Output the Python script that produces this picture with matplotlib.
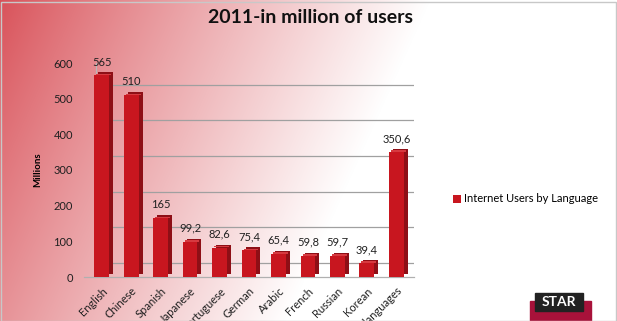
import numpy as np
import matplotlib
matplotlib.use("Agg")
import matplotlib.pyplot as plt
import matplotlib.transforms as mtransforms
from matplotlib.patches import Rectangle

# ─────────────────────────────────────────
# DATA
# ─────────────────────────────────────────
languages = ["English", "Chinese", "Spanish", "Japanese", "Portuguese", "German",
             "Arabic", "French", "Russian", "Korean", "Other languages"]
users = [565, 510, 165, 99.2, 82.6, 75.4, 65.4, 59.8, 59.7, 39.4, 350.6]
value_labels = ["565", "510", "165", "99,2", "82,6", "75,4", "65,4", "59,8",
                "59,7", "39,4", "350,6"]
y_ticks = [0, 100, 200, 300, 400, 500, 600]

TITLE = "2011-in million of users"
SERIES = "Internet Users by Language"

plt.rcParams['font.family'] = ['Lato', 'DejaVu Sans']

W, H = 617, 321
fig = plt.figure(figsize=(W / 100, H / 100), dpi=100)

# ─────────────────────────────────────────
# background gradient (red -> white, diagonal)
# ─────────────────────────────────────────
bg = fig.add_axes([0, 0, 1, 1], zorder=0)
xx, yy = np.meshgrid(np.arange(W), np.arange(H))
t = np.clip((xx + 0.45 * yy) / 430.0, 0, 1) ** 0.9
red = np.array([0.85, 0.32, 0.35])
white = np.array([1.0, 1.0, 1.0])
img = red[None, None, :] * (1 - t[..., None]) + white[None, None, :] * t[..., None]
bg.imshow(img, extent=[0, W, H, 0], aspect="auto")
bg.set_xlim(0, W)
bg.set_ylim(H, 0)
bg.axis("off")

# ─────────────────────────────────────────
# main chart
# ─────────────────────────────────────────
ax = fig.add_axes([84 / W, 44 / H, 330 / W, 214 / H], zorder=2)
ax.patch.set_alpha(0)
x = np.arange(len(languages))

# back wall gridlines, shifted for a 3D look
back = ax.transData + mtransforms.ScaledTranslation(12 / 100, 14 / 100, fig.dpi_scale_trans)
for v in y_ticks:
    ax.plot([-0.6, 10.6], [v, v], color="#a0a0a0", lw=0.9, transform=back, zorder=1)
ax.plot([-0.6, -0.6], [0, 600], color="#b8b8b8", lw=0.8, transform=back, zorder=1)
for v in y_ticks:
    ax.plot([-0.6, -0.6], [v, v], color="#b8b8b8", lw=0.8, zorder=1)

# floor front edge
ax.plot([-0.6, 10.6], [0, 0], color="#b0b0b0", lw=0.9, zorder=1, clip_on=False)

# bars: side face, top face, then front
side = ax.transData + mtransforms.ScaledTranslation(4 / 100, 3 / 100, fig.dpi_scale_trans)
ax.bar(x, users, width=0.5, color="#8e0f16", transform=side, zorder=3)
ax.bar(x, users, width=0.5, bottom=0, color="#c8161f", zorder=4, label=SERIES)
top = ax.transData + mtransforms.ScaledTranslation(2 / 100, 1.5 / 100, fig.dpi_scale_trans)
ax.bar(x, [4] * len(x), bottom=np.array(users) - 4, width=0.5, color="#d63a40",
       transform=top, zorder=3.5)

for xi, v, lab in zip(x, users, value_labels):
    ax.text(xi, v + 22, lab, ha="center", va="bottom", fontsize=8, color="#202020", zorder=5)

ax.set_xlim(-0.6, 10.6)
ax.set_ylim(0, 600)
ax.set_yticks(y_ticks)
ax.set_yticklabels([str(v) for v in y_ticks], fontsize=8, color="#202020")
ax.set_xticks(x)
ax.set_xticklabels(languages, rotation=45, ha="right", rotation_mode="anchor",
                   fontsize=8, color="#202020")
ax.tick_params(axis="y", length=0, pad=8)
ax.tick_params(axis="x", length=0, pad=6)
for s in ax.spines.values():
    s.set_visible(False)
ax.set_ylabel("Millions", fontsize=7, fontweight="bold", labelpad=8)

fig.text(0.503, 0.945, TITLE, ha="center", va="center", fontsize=14, fontweight="bold",
         color="#111111")

fig.legend(loc="center left", bbox_to_anchor=(443 / W, 1 - 199 / H), frameon=False,
           fontsize=8, handlelength=0.7, handleheight=0.7, handletextpad=0.3)

# STAR logo
fig.patches.append(Rectangle((530 / W, 0), 61 / W, 20 / H, transform=fig.transFigure,
                             color="#a8123a", zorder=5))
fig.patches.append(Rectangle((535 / W, 10 / H), 48 / W, 18 / H, transform=fig.transFigure,
                             color="#222222", zorder=6))
fig.text(559 / W, 19 / H, "STAR", ha="center", va="center", fontsize=10, fontweight="bold",
         color="white", zorder=7)

# frame
fig.patches.append(Rectangle((0.5 / W, 0.5 / H), 1 - 2 / W, 1 - 2 / H, transform=fig.transFigure,
                             fill=False, edgecolor="#c8c8c8", lw=1, zorder=8))

fig.savefig("out.png", dpi=100)
